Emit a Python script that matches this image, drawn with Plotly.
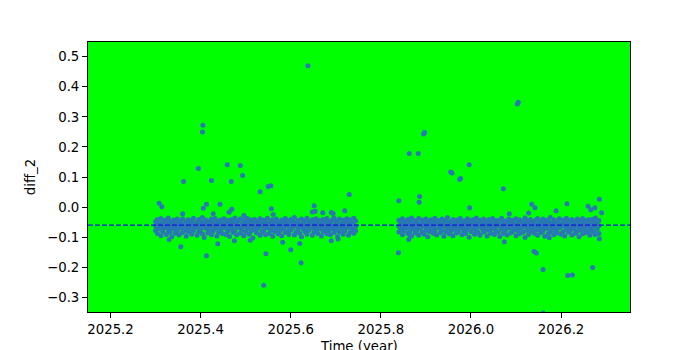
import plotly.graph_objects as go

# ---------------- data ----------------
t1 = [2025.300, 2025.304, 2025.308, 2025.312, 2025.316, 2025.320, 2025.324, 2025.328, 2025.332, 2025.336,
      2025.340, 2025.344, 2025.348, 2025.352, 2025.356, 2025.360, 2025.364, 2025.368, 2025.372, 2025.376,
      2025.380, 2025.384, 2025.388, 2025.392, 2025.396, 2025.400, 2025.404, 2025.408, 2025.412, 2025.416,
      2025.420, 2025.424, 2025.428, 2025.432, 2025.436, 2025.440, 2025.444, 2025.448, 2025.452, 2025.456,
      2025.460, 2025.464, 2025.468, 2025.472, 2025.476, 2025.480, 2025.484, 2025.488, 2025.492, 2025.496,
      2025.500, 2025.504, 2025.508, 2025.512, 2025.516, 2025.520, 2025.524, 2025.528, 2025.532, 2025.536,
      2025.540, 2025.544, 2025.548, 2025.552, 2025.556, 2025.560, 2025.564, 2025.568, 2025.572, 2025.576,
      2025.580, 2025.584, 2025.588, 2025.592, 2025.596, 2025.600, 2025.604, 2025.608, 2025.612, 2025.616,
      2025.620, 2025.624, 2025.628, 2025.632, 2025.636, 2025.640, 2025.644, 2025.648, 2025.652, 2025.656,
      2025.660, 2025.664, 2025.668, 2025.672, 2025.676, 2025.680, 2025.684, 2025.688, 2025.692, 2025.696,
      2025.700, 2025.704, 2025.708, 2025.712, 2025.716, 2025.720, 2025.724, 2025.728, 2025.732, 2025.736,
      2025.740, 2025.744]
u1 = [-0.048, -0.041, -0.052, -0.038, -0.055, -0.044, -0.050, -0.036, -0.047, -0.058, -0.043, -0.051, -0.040, -0.054, -0.046, -0.039, -0.057, -0.049, -0.042, -0.053,
      -0.045, -0.037, -0.056, -0.050, -0.041, -0.048, -0.035, -0.052, -0.044, -0.059, -0.046, -0.040, -0.054, -0.038, -0.050, -0.047, -0.043, -0.055, -0.039, -0.051,
      -0.044, -0.057, -0.042, -0.049, -0.036, -0.053, -0.046, -0.040, -0.058, -0.045, -0.050, -0.038, -0.054, -0.043, -0.048, -0.041, -0.056, -0.047, -0.039, -0.052,
      -0.044, -0.050, -0.037, -0.055, -0.046, -0.042, -0.053, -0.040, -0.049, -0.057, -0.043, -0.051, -0.038, -0.046, -0.054, -0.041, -0.048, -0.035, -0.052, -0.045,
      -0.058, -0.040, -0.050, -0.044, -0.037, -0.053, -0.047, -0.042, -0.055, -0.039, -0.049, -0.045, -0.056, -0.041, -0.051, -0.038, -0.047, -0.054, -0.043, -0.036,
      -0.050, -0.046, -0.040, -0.057, -0.044, -0.052, -0.039, -0.048, -0.042, -0.055, -0.037, -0.046]
m1 = [-0.062, -0.066, -0.059, -0.068, -0.063, -0.057, -0.065, -0.061, -0.069, -0.058, -0.064, -0.060, -0.067, -0.062, -0.056, -0.066, -0.063, -0.059, -0.070, -0.061,
      -0.065, -0.058, -0.064, -0.062, -0.068, -0.060, -0.066, -0.057, -0.063, -0.061, -0.069, -0.059, -0.064, -0.062, -0.067, -0.058, -0.065, -0.060, -0.063, -0.066,
      -0.061, -0.068, -0.057, -0.064, -0.062, -0.059, -0.067, -0.063, -0.060, -0.065, -0.058, -0.066, -0.062, -0.069, -0.061, -0.064, -0.059, -0.067, -0.063, -0.060,
      -0.066, -0.058, -0.065, -0.062, -0.068, -0.061, -0.064, -0.057, -0.063, -0.066, -0.060, -0.067, -0.062, -0.059, -0.065, -0.061, -0.068, -0.063, -0.058, -0.064,
      -0.062, -0.066, -0.060, -0.069, -0.061, -0.064, -0.058, -0.067, -0.063, -0.059, -0.065, -0.062, -0.068, -0.060, -0.064, -0.057, -0.066, -0.061, -0.063, -0.067,
      -0.059, -0.065, -0.062, -0.068, -0.060, -0.064, -0.061, -0.066, -0.058, -0.063, -0.062, -0.065]
l1 = [-0.078, -0.088, -0.072, -0.095, -0.081, -0.069, -0.091, -0.076, -0.084, -0.099, -0.073, -0.087, -0.080, -0.093, -0.070, -0.085, -0.077, -0.097, -0.082, -0.074,
      -0.090, -0.079, -0.068, -0.094, -0.083, -0.075, -0.089, -0.101, -0.071, -0.086, -0.078, -0.092, -0.080, -0.072, -0.096, -0.084, -0.076, -0.088, -0.070, -0.091,
      -0.081, -0.098, -0.074, -0.085, -0.079, -0.093, -0.069, -0.087, -0.077, -0.095, -0.082, -0.073, -0.090, -0.080, -0.103, -0.075, -0.086, -0.071, -0.094, -0.083,
      -0.078, -0.092, -0.070, -0.088, -0.076, -0.097, -0.081, -0.074, -0.089, -0.079, -0.095, -0.072, -0.085, -0.080, -0.091, -0.077, -0.068, -0.093, -0.084, -0.075,
      -0.087, -0.099, -0.073, -0.082, -0.090, -0.078, -0.070, -0.094, -0.083, -0.076, -0.088, -0.072, -0.096, -0.081, -0.074, -0.089, -0.079, -0.092, -0.071, -0.085,
      -0.077, -0.098, -0.082, -0.073, -0.090, -0.080, -0.069, -0.094, -0.084, -0.076, -0.087, -0.079]

t2 = [2025.840, 2025.844, 2025.848, 2025.852, 2025.856, 2025.860, 2025.864, 2025.868, 2025.872, 2025.876,
      2025.880, 2025.884, 2025.888, 2025.892, 2025.896, 2025.900, 2025.904, 2025.908, 2025.912, 2025.916,
      2025.920, 2025.924, 2025.928, 2025.932, 2025.936, 2025.940, 2025.944, 2025.948, 2025.952, 2025.956,
      2025.960, 2025.964, 2025.968, 2025.972, 2025.976, 2025.980, 2025.984, 2025.988, 2025.992, 2025.996,
      2026.000, 2026.004, 2026.008, 2026.012, 2026.016, 2026.020, 2026.024, 2026.028, 2026.032, 2026.036,
      2026.040, 2026.044, 2026.048, 2026.052, 2026.056, 2026.060, 2026.064, 2026.068, 2026.072, 2026.076,
      2026.080, 2026.084, 2026.088, 2026.092, 2026.096, 2026.100, 2026.104, 2026.108, 2026.112, 2026.116,
      2026.120, 2026.124, 2026.128, 2026.132, 2026.136, 2026.140, 2026.144, 2026.148, 2026.152, 2026.156,
      2026.160, 2026.164, 2026.168, 2026.172, 2026.176, 2026.180, 2026.184, 2026.188, 2026.192, 2026.196,
      2026.200, 2026.204, 2026.208, 2026.212, 2026.216, 2026.220, 2026.224, 2026.228, 2026.232, 2026.236,
      2026.240, 2026.244, 2026.248, 2026.252, 2026.256, 2026.260, 2026.264, 2026.268, 2026.272, 2026.276,
      2026.280, 2026.284]
u2 = [-0.044, -0.052, -0.039, -0.047, -0.056, -0.041, -0.050, -0.036, -0.054, -0.045, -0.049, -0.038, -0.057, -0.043, -0.051, -0.040, -0.046, -0.055, -0.042, -0.048,
      -0.037, -0.053, -0.045, -0.058, -0.040, -0.050, -0.044, -0.035, -0.052, -0.047, -0.041, -0.056, -0.043, -0.049, -0.038, -0.054, -0.046, -0.051, -0.039, -0.045,
      -0.057, -0.042, -0.048, -0.036, -0.053, -0.044, -0.050, -0.040, -0.055, -0.047, -0.041, -0.052, -0.038, -0.049, -0.045, -0.058, -0.043, -0.037, -0.051, -0.046,
      -0.054, -0.040, -0.048, -0.044, -0.056, -0.039, -0.050, -0.042, -0.047, -0.053, -0.036, -0.045, -0.052, -0.041, -0.049, -0.057, -0.043, -0.038, -0.055, -0.046,
      -0.040, -0.051, -0.044, -0.048, -0.035, -0.054, -0.042, -0.050, -0.046, -0.039, -0.056, -0.043, -0.049, -0.037, -0.053, -0.045, -0.041, -0.052, -0.047, -0.040,
      -0.055, -0.044, -0.038, -0.050, -0.046, -0.042, -0.057, -0.041, -0.048, -0.036, -0.053, -0.045]
m2 = [-0.064, -0.060, -0.067, -0.062, -0.058, -0.066, -0.061, -0.069, -0.063, -0.059, -0.065, -0.062, -0.068, -0.057, -0.064, -0.061, -0.066, -0.060, -0.063, -0.067,
      -0.058, -0.065, -0.062, -0.069, -0.060, -0.064, -0.061, -0.066, -0.059, -0.063, -0.068, -0.062, -0.057, -0.065, -0.060, -0.067, -0.063, -0.061, -0.066, -0.058,
      -0.064, -0.062, -0.069, -0.060, -0.065, -0.059, -0.063, -0.067, -0.061, -0.064, -0.058, -0.066, -0.062, -0.068, -0.060, -0.063, -0.065, -0.057, -0.064, -0.061,
      -0.067, -0.059, -0.063, -0.066, -0.060, -0.062, -0.068, -0.058, -0.065, -0.061, -0.064, -0.059, -0.067, -0.062, -0.060, -0.066, -0.063, -0.058, -0.065, -0.061,
      -0.069, -0.060, -0.064, -0.062, -0.066, -0.059, -0.063, -0.067, -0.061, -0.065, -0.058, -0.064, -0.062, -0.068, -0.060, -0.063, -0.066, -0.059, -0.064, -0.061,
      -0.067, -0.062, -0.058, -0.065, -0.063, -0.060, -0.066, -0.061, -0.064, -0.059, -0.067, -0.062]
l2 = [-0.083, -0.075, -0.092, -0.079, -0.070, -0.088, -0.081, -0.096, -0.073, -0.086, -0.078, -0.094, -0.071, -0.084, -0.090, -0.077, -0.099, -0.082, -0.074, -0.087,
      -0.080, -0.093, -0.069, -0.085, -0.076, -0.097, -0.083, -0.072, -0.089, -0.079, -0.095, -0.074, -0.086, -0.081, -0.070, -0.092, -0.078, -0.088, -0.075, -0.100,
      -0.082, -0.073, -0.090, -0.077, -0.085, -0.094, -0.071, -0.083, -0.079, -0.096, -0.076, -0.087, -0.072, -0.091, -0.080, -0.084, -0.098, -0.074, -0.088, -0.078,
      -0.093, -0.070, -0.086, -0.082, -0.075, -0.095, -0.079, -0.089, -0.073, -0.084, -0.101, -0.077, -0.091, -0.081, -0.072, -0.087, -0.078, -0.094, -0.076, -0.085,
      -0.080, -0.097, -0.071, -0.088, -0.083, -0.074, -0.092, -0.079, -0.086, -0.070, -0.090, -0.082, -0.096, -0.075, -0.084, -0.078, -0.093, -0.073, -0.087, -0.081,
      -0.099, -0.076, -0.089, -0.072, -0.085, -0.080, -0.094, -0.077, -0.083, -0.091, -0.074, -0.088]

# scattered points outside the main band
t_out = [2025.638, 2025.405, 2025.404, 2025.395, 2025.459, 2025.488, 2025.362, 2025.424, 2025.468, 2025.493,
         2025.532, 2025.550, 2025.556, 2025.730, 2025.308, 2025.314, 2025.360, 2025.406, 2025.413, 2025.443,
         2025.428, 2025.463, 2025.469, 2025.496, 2025.557, 2025.561, 2025.652, 2025.648, 2025.654, 2025.671,
         2025.690, 2025.694, 2025.720, 2025.356, 2025.438, 2025.413, 2025.545, 2025.540, 2025.600, 2025.623,
         2025.582, 2025.620, 2025.330, 2025.475, 2025.510, 2025.690, 2025.705,
         2025.895, 2025.897, 2025.863, 2025.883, 2025.996, 2025.955, 2025.958, 2025.975, 2025.977, 2026.072,
         2026.105, 2026.103, 2025.840, 2025.886, 2025.885, 2025.997, 2026.135, 2026.142, 2026.189, 2026.213,
         2026.260, 2026.266, 2026.275, 2026.285, 2026.290, 2026.085, 2026.128, 2025.839, 2026.140, 2026.145,
         2026.160, 2026.270, 2026.215, 2026.225, 2026.160, 2025.862, 2026.074, 2026.174, 2026.285, 2025.865]
y_out = [0.470, 0.272, 0.250, 0.128, 0.141, 0.138, 0.085, 0.088, 0.085, 0.105,
         0.051, 0.068, 0.071, 0.042, 0.013, 0.001, -0.022, -0.004, 0.009, 0.009,
         -0.022, -0.017, -0.007, -0.028, -0.006, -0.025, 0.004, -0.016, -0.014, -0.019,
         -0.018, -0.021, -0.012, -0.132, -0.122, -0.162, -0.155, -0.260, -0.142, -0.185,
         -0.117, -0.121, -0.108, -0.112, -0.110, -0.112, -0.106,
         0.243, 0.248, 0.178, 0.178, 0.141, 0.117, 0.113, 0.092, 0.095, 0.061,
         0.349, 0.343, 0.021, 0.035, 0.016, -0.002, 0.009, -0.002, -0.012, 0.011,
         0.003, -0.009, -0.002, 0.026, -0.019, -0.022, -0.020, -0.152, -0.148, -0.153,
         -0.208, -0.201, -0.228, -0.226, -0.352, -0.108, -0.115, -0.102, -0.105, -0.094]

median_val = -0.06

x_ticks = [2025.2, 2025.4, 2025.6, 2025.8, 2026.0, 2026.2]
y_ticks = [-0.3, -0.2, -0.1, 0.0, 0.1, 0.2, 0.3, 0.4, 0.5]

# ---------------- figure ----------------
times = t1 * 3 + t2 * 3 + t_out
values = u1 + m1 + l1 + u2 + m2 + l2 + y_out

fig = go.Figure()
fig.add_trace(go.Scatter(
    x=times, y=values, mode="markers",
    marker=dict(symbol="circle", size=5, color="#2a77b6", line=dict(width=0)),
    showlegend=False,
))
fig.add_hline(y=median_val, line=dict(color="#1515d8", width=1.2, dash="5px,2px"))

font = dict(family="DejaVu Sans", size=13.3, color="black")
fig.update_layout(
    width=700, height=350,
    margin=dict(l=88, r=70, t=42, b=38, autoexpand=False),
    paper_bgcolor="white", plot_bgcolor="#00ff00",
    font=font, showlegend=False,
)
axis_common = dict(showgrid=False, zeroline=False, showline=True, linecolor="black", linewidth=1,
                   mirror=True, ticks="outside", ticklen=5, tickwidth=1, tickcolor="black",
                   tickfont=font, automargin=False)
fig.update_xaxes(range=[2025.15, 2026.353], tickvals=x_ticks,
                 ticktext=[f"{v:.1f}" for v in x_ticks], **axis_common)
fig.update_yaxes(range=[-0.349, 0.549], tickvals=y_ticks,
                 ticktext=[f"{v:.1f}".replace("-", "\u2212") for v in y_ticks],
                 title=dict(text="diff_2", font=font, standoff=8), **axis_common)

# x-axis title; like the reference, it runs past the bottom edge of the window
fig.add_annotation(text="Time (year)", xref="paper", yref="paper", x=0.5, y=-0.092,
                   xanchor="center", yanchor="top", showarrow=False, font=font)

fig.write_html("out.html")
